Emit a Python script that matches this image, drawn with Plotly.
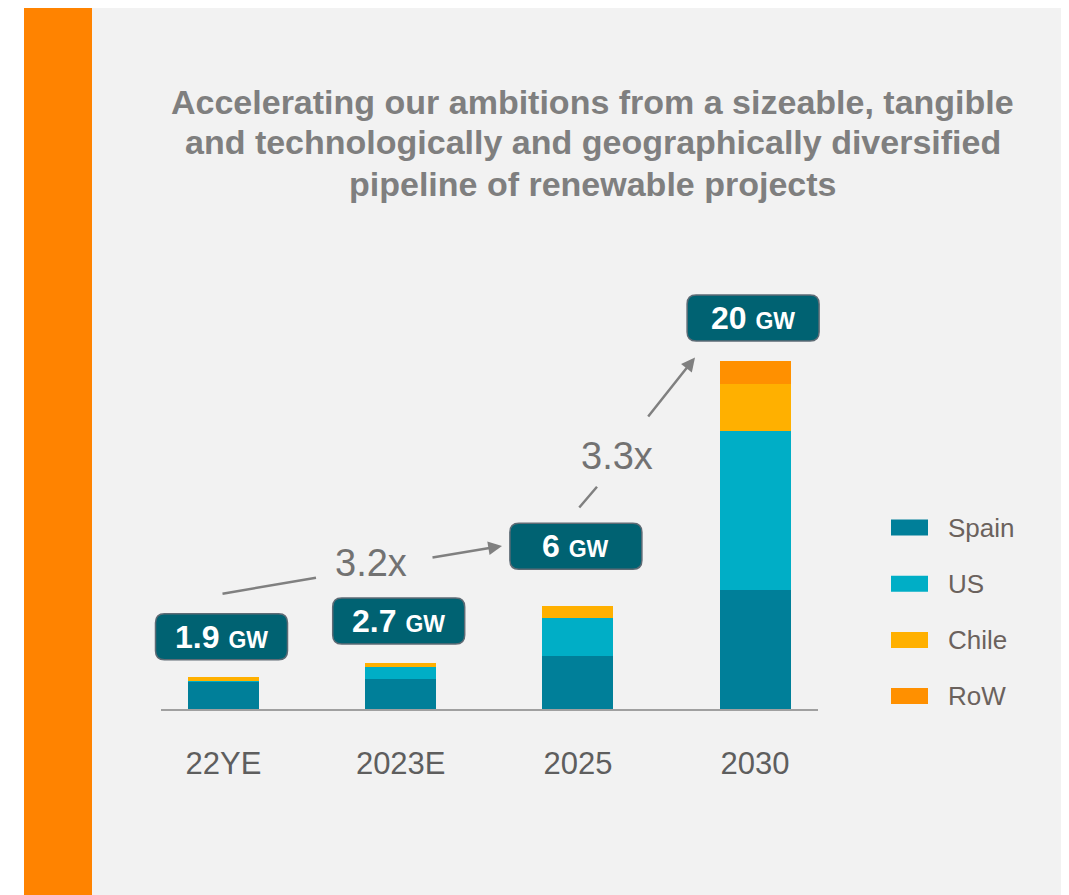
import plotly.graph_objects as go

# data
categories = ["22YE", "2023E", "2025", "2030"]
series_names = ["Spain", "US", "Chile", "RoW"]
spain = [1.62, 1.78, 3.1, 6.9]
us = [0.06, 0.69, 2.2, 9.1]
chile = [0.22, 0.23, 0.65, 2.7]
row = [0.0, 0.0, 0.0, 1.3]
total_labels = ["1.9", "2.7", "6", "20"]
growth_labels = ["3.2x", "3.3x"]
title_lines = ["Accelerating our ambitions from a sizeable, tangible",
               "and technologically and geographically diversified",
               "pipeline of renewable projects"]

colors = ["#007F99", "#00AEC6", "#FFB000", "#FF9000"]
FONT = "Liberation Sans, Arial, sans-serif"

# the page body adds an 8px margin, so the figure is laid out 8px up/left
OFF = 8
W, H = 1069, 895
L, T = 100 - OFF, 250 - OFF
PW, PH = 760, 460
R, B = W - L - PW, H - T - PH
GW_PX = 17.45           # pixels per GW
X0_PX, STEP_PX = 223.5, 177.2   # centre of first bar, bar spacing


def paper_x(px):
    return (px - OFF - L) / PW


def paper_y(py):
    return (H - B - (py - OFF)) / PH


def rounded_box(w, h, r, dx, dy):
    x0, x1 = dx - w / 2, dx + w / 2
    y0, y1 = dy - h / 2, dy + h / 2
    return (f"M {x0 + r},{y0} L {x1 - r},{y0} Q {x1},{y0} {x1},{y0 + r} "
            f"L {x1},{y1 - r} Q {x1},{y1} {x1 - r},{y1} L {x0 + r},{y1} "
            f"Q {x0},{y1} {x0},{y1 - r} L {x0},{y0 + r} Q {x0},{y0} {x0 + r},{y0} Z")


fig = go.Figure()
for name, vals, col in zip(series_names, [spain, us, chile, row], colors):
    fig.add_trace(go.Bar(x=categories, y=vals, name=name, marker_color=col,
                         marker_line_width=0, showlegend=False))

totals = [a + b + c + d for a, b, c, d in zip(spain, us, chile, row)]

shapes = []
annotations = []

# left white margin and orange stripe
shapes.append(dict(type="rect", xref="paper", yref="paper", layer="below",
                   x0=paper_x(0), x1=paper_x(24), y0=paper_y(0), y1=paper_y(H + 40),
                   fillcolor="white", line_width=0))
shapes.append(dict(type="rect", xref="paper", yref="paper", layer="below",
                   x0=paper_x(24), x1=paper_x(92), y0=paper_y(5), y1=paper_y(H + 40),
                   fillcolor="#FF8300", line_width=0))

# baseline
shapes.append(dict(type="line", xref="paper", yref="paper", x0=paper_x(161), x1=paper_x(818),
                   y0=0, y1=0, line=dict(color="#A0A0A0", width=2)))

# total label boxes
box_offsets = [40, 42, 60, 43]
for i, (lab, tot, dy) in enumerate(zip(total_labels, totals, box_offsets)):
    shapes.append(dict(type="path", xref="x", yref="y", xsizemode="pixel", ysizemode="pixel",
                       xanchor=i, yanchor=tot, path=rounded_box(132, 46, 9, -2, dy),
                       fillcolor="#006272", line=dict(color="#5E6B75", width=1.5)))
    annotations.append(dict(x=i, y=tot, xref="x", yref="y", yshift=dy, xshift=-2,
                            showarrow=False, xanchor="center", yanchor="middle",
                            text=f"<b>{lab}</b> <b><span style='font-size:23px'>GW</span></b>",
                            font=dict(family=FONT, size=32, color="white")))

# growth arrows
arrow_style = dict(xref="paper", yref="paper", text="", arrowcolor="#808080",
                   arrowwidth=2.5, standoff=0, startstandoff=0, showarrow=True)
segments = [((221, 594), (316, 577.7), 0), ((431, 557.7), (502, 546), 2),
            ((578, 509), (597, 486.7), 0), ((647, 418), (695, 357.5), 2)]
for (tx, ty), (hx, hy), head in segments:
    annotations.append(dict(arrow_style, x=paper_x(hx), y=paper_y(hy),
                            ax=tx - hx, ay=ty - hy, arrowhead=head, arrowsize=1.1))
for lab, (cx, cy) in zip(growth_labels, [(371, 563), (617, 456)]):
    annotations.append(dict(x=paper_x(cx), y=paper_y(cy), xref="paper", yref="paper",
                            xanchor="center", yanchor="middle", showarrow=False, text=lab,
                            font=dict(family=FONT, size=38, color="#727272")))

# title, one annotation per line
for line, cy in zip(title_lines, [102, 142, 184]):
    annotations.append(dict(x=paper_x(592.5), y=paper_y(cy), xref="paper", yref="paper",
                            xanchor="center", yanchor="middle", showarrow=False,
                            text=f"<b>{line}</b>",
                            font=dict(family=FONT, size=34, color="#7F7F7F")))

# custom legend
for k, (name, col) in enumerate(zip(series_names, colors)):
    yc = 527.5 + k * 56.2
    shapes.append(dict(type="rect", xref="paper", yref="paper",
                       x0=paper_x(891), x1=paper_x(928), y0=paper_y(yc + 8), y1=paper_y(yc - 8),
                       fillcolor=col, line_width=0))
    annotations.append(dict(x=paper_x(946), y=paper_y(yc), xref="paper", yref="paper",
                            xanchor="left", yanchor="middle", showarrow=False, text=name,
                            font=dict(family=FONT, size=26, color="#6B625D")))

x_left = (L + OFF - X0_PX) / STEP_PX
x_right = (L + OFF + PW - X0_PX) / STEP_PX

fig.update_layout(
    width=W, height=H,
    margin=dict(l=L, r=R, t=T, b=B),
    paper_bgcolor="#F2F2F2", plot_bgcolor="#F2F2F2",
    barmode="stack", bargap=0.6,
    shapes=shapes, annotations=annotations,
    xaxis=dict(range=[x_left, x_right], showline=False, zeroline=False,
               ticks="", showgrid=False, ticklabelstandoff=32,
               tickfont=dict(family=FONT, size=31, color="#5E5E5E")),
    yaxis=dict(range=[0, PH / GW_PX], visible=False, showgrid=False, zeroline=False),
)

fig.write_html("out.html")
